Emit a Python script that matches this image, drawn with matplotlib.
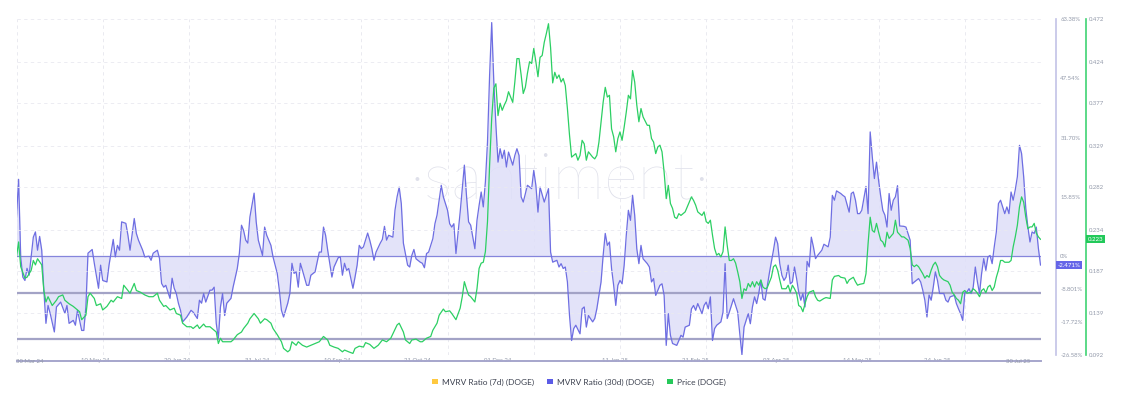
import numpy as np
import matplotlib
matplotlib.use("Agg")
import matplotlib.pyplot as plt
import matplotlib.dates as mdates
from matplotlib.patches import Patch

plt.rcParams['font.family'] = ['Lato', 'DejaVu Sans']

start_date = np.datetime64('2024-03-30')
end_date = np.datetime64('2025-07-30')

# MVRV Ratio (30d) (DOGE), %  -- day offsets from start_date
mvrv_days = [0,1,2,3,4,5,6,8,9,10,11,12,13,14,15,16,18,19,21,23,24,25,27,28,29,31,32,33,34,36,37,39,40,41,43,44,46,47,48,49,
             50,52,53,54,56,57,58,60,61,63,64,65,67,68,69,70,71,73,74,75,76,77,78,79,81,83,84,86,87,88,89,90,92,93,94,95,96,97,98,99,
             100,102,103,105,106,107,108,109,110,111,113,114,115,117,118,119,121,122,124,125,126,127,129,130,131,132,133,134,135,136,138,139,140,142,143,144,145,146,147,148,
             150,151,153,154,155,156,157,158,159,160,161,162,163,164,165,167,168,169,170,171,173,174,175,176,177,179,180,181,182,183,184,186,187,188,189,190,192,193,194,195,196,198,199,
             200,201,202,203,205,206,207,208,209,211,212,213,214,215,216,218,219,220,221,222,223,224,225,226,227,228,229,230,231,232,233,234,236,237,238,239,240,241,242,243,245,246,247,248,249,
             251,252,253,254,255,257,258,259,260,261,262,263,264,265,266,268,269,270,271,272,274,275,276,278,279,280,281,282,283,284,285,286,287,288,289,290,291,292,293,294,295,296,297,298,
             300,301,302,303,304,306,307,308,309,310,311,312,314,315,316,317,318,320,321,322,323,324,326,327,328,329,330,331,332,333,335,336,337,338,339,340,341,343,344,345,346,348,349,
             350,351,352,353,354,355,356,357,358,360,361,362,363,364,365,366,367,368,369,370,371,372,373,374,375,376,377,378,379,380,381,383,384,386,387,388,389,390,392,393,394,396,397,398,399,
             400,401,402,404,405,406,407,408,409,410,411,412,413,414,415,416,417,418,419,420,422,423,425,426,427,429,430,431,432,433,434,435,436,437,438,439,440,441,442,443,444,446,447,448,449,
             450,451,452,453,454,455,456,457,458,459,460,461,462,463,464,465,466,467,468,469,470,471,472,473,474,475,476,477,478,479,480,481,482,483,484,485,486,487]
mvrv_vals = [10.4,20.5,-0.3,-5.7,-6.6,-3.35,-5.2,5.0,6.4,1.5,5.2,1.5,-9.2,-18.1,-13.3,-15.4,-20.4,-13.7,-12.4,-15.4,-13.3,-18.1,-17.3,-18.6,-14.6,-20.0,-20.0,-13.7,0.7,1.7,-2.0,-8.7,-2.5,-6.6,-7.0,-2.5,4.4,-0.3,2.8,1.5,
             9.1,8.7,5.5,1.5,10.0,6.0,4.2,1.5,-0.3,-0.1,-1.2,0.7,1.5,-0.7,-7.4,-8.4,-7.9,-11.4,-6.0,-8.7,-10.1,-12.7,-14.6,-17.7,-16.4,-14.6,-15.1,-16.8,-11.9,-12.7,-10.1,-12.4,-9.2,-9.2,-8.4,-18.1,-22.1,-13.7,-10.1,-16.0,
             -12.7,-11.4,-8.4,-3.4,0.7,8.2,6.8,4.2,3.4,10.4,16.8,9.1,4.2,0.1,7.7,5.5,2.8,-0.3,-4.7,-9.2,-14.6,-16.4,-12.7,-10.1,-2.0,-4.7,-4.3,-8.4,-2.0,-3.9,-7.9,-7.9,-5.2,-4.3,-1.7,1.0,1.0,7.7,5.5,1.5,
             -5.7,-3.0,-0.5,-0.3,-5.2,-2.0,-3.9,-3.4,-6.0,-8.7,-5.7,-2.5,2.8,1.9,2.4,6.1,4.2,1.9,-1.2,1.0,3.4,4.4,7.9,4.2,5.5,5.0,12.2,15.8,18.4,14.0,3.4,-2.5,-3.0,0.1,1.7,-0.8,-1.7,-2.0,-3.2,0.6,1.0,4.6,8.6,
             10.9,14.9,18.9,15.8,12.2,8.6,7.7,8.6,0.6,11.7,18.0,24.3,16.2,9.1,8.2,1.9,9.5,13.5,17.1,13.1,19.8,30.5,48.4,62.5,46.6,35.0,25.1,28.7,26.1,28.3,23.8,27.8,24.3,26.9,28.7,26.9,15.8,14.4,16.7,18.9,18.0,22.9,18.9,11.7,18.4,
             14.4,16.2,18.0,1.0,-1.7,-1.2,-3.0,-2.1,-3.4,-3.0,-7.0,-16.0,-22.7,-19.5,-18.6,-20.9,-14.2,-13.7,-19.1,-16.0,-17.7,-16.8,-14.2,-7.0,0.1,6.0,2.8,3.7,-3.4,-7.9,-13.3,-7.9,-6.6,-7.5,-2.5,5.5,12.2,9.5,16.2,10.9,1.9,-2.1,2.8,-0.8,
             -2.1,-3.0,-7.0,-6.1,-10.6,-7.9,-7.5,-10.6,-24.0,-15.5,-21.3,-23.5,-24.0,-22.7,-21.3,-21.8,-19.1,-18.6,-14.2,-13.3,-14.6,-12.8,-15.5,-13.3,-12.4,-14.2,-11.0,-22.7,-19.5,-18.6,-17.7,-15.1,-2.1,-16.8,-15.1,-13.3,-11.5,-15.1,-21.0,-26.5,-19.1,-15.5,-18.2,
             -13.7,-11.0,-12.8,-10.1,-6.6,-11.5,-11.9,-8.4,-4.8,1.5,5.0,3.3,-2.1,-5.2,-6.6,-5.7,-2.5,-7.5,-7.0,-3.0,-6.1,-9.7,-11.9,-10.1,-13.7,-1.5,-3.0,5.0,2.4,-0.75,0.1,1.5,3.1,2.4,5.0,16.2,14.9,17.4,16.7,16.2,15.8,11.7,16.7,17.1,14.9,
             11.3,11.3,12.2,18.6,11.3,33.2,26.5,20.7,25.1,20.2,16.0,12.2,10.9,7.7,16.7,12.2,14.9,15.8,18.8,8.0,7.9,7.7,4.2,-7.5,-7.0,-6.1,-7.0,-9.2,-11.9,-16.4,-10.5,-11.9,-8.4,-4.3,-6.6,-10.1,-10.1,-10.1,-11.9,-12.4,-11.0,-10.6,-12.8,-14.2,-15.5,
             -17.3,-9.9,-9.7,-8.8,-10.1,-8.4,-3.0,-7.0,-10.1,-4.7,-0.75,-3.9,-0.3,0.1,-2.1,2.4,6.4,14.0,14.9,13.1,11.3,13.1,11.3,17.1,14.9,17.7,21.2,29.6,27.4,21.2,12.7,7.7,3.7,6.4,6.0,7.7,2.0,-2.471]

# Price (DOGE), USD
price_days = [0,1,2,4,5,7,8,9,10,12,13,14,15,17,19,20,22,23,25,27,28,30,31,33,34,35,37,38,40,41,43,45,46,48,
              50,51,53,54,56,57,59,61,63,65,67,68,70,71,73,75,76,78,79,81,83,84,86,87,89,90,92,93,95,96,97,98,
              100,102,103,105,107,108,110,111,113,115,116,118,119,121,122,124,126,127,129,130,131,133,134,136,138,140,142,144,146,148,149,
              151,153,155,156,158,160,161,163,165,166,168,170,172,174,176,178,179,181,182,184,185,187,188,190,192,193,195,197,198,
              200,201,203,204,206,207,209,211,212,213,214,215,216,218,219,220,221,222,223,224,225,226,227,228,229,230,231,232,233,234,236,237,238,239,240,241,242,243,244,245,246,247,248,249,
              250,251,252,253,254,255,256,257,258,259,260,261,262,263,264,266,267,268,269,270,271,272,274,275,276,277,278,279,280,281,282,283,284,285,286,287,288,289,290,291,292,293,294,295,296,297,298,
              300,301,302,303,304,305,306,307,308,309,310,311,312,313,314,315,316,317,318,319,320,321,322,323,324,326,327,328,329,330,331,332,333,334,335,336,337,338,339,340,341,342,343,344,345,346,347,348,349,
              350,351,352,353,354,355,356,357,359,360,361,362,363,364,366,367,368,369,370,371,372,373,374,375,376,377,379,380,381,382,384,385,387,388,389,391,392,394,395,396,398,399,
              400,401,403,404,405,406,407,408,409,410,411,412,413,414,415,417,418,419,421,422,424,425,426,427,428,429,431,432,433,434,435,436,437,438,439,440,441,443,444,445,446,447,448,449,
              450,451,452,454,455,456,457,458,459,460,461,462,463,464,465,466,467,468,469,470,472,473,474,475,476,477,478,479,480,481,482,483,484,485,486,487]
price_vals = [0.203,0.220,0.192,0.179,0.180,0.188,0.199,0.194,0.201,0.194,0.165,0.152,0.158,0.148,0.154,0.158,0.160,0.154,0.150,0.147,0.145,0.141,0.132,0.137,0.158,0.162,0.156,0.148,0.150,0.143,0.147,0.154,0.152,0.158,
              0.156,0.171,0.165,0.162,0.173,0.165,0.163,0.160,0.158,0.158,0.162,0.154,0.147,0.148,0.143,0.145,0.139,0.137,0.128,0.124,0.124,0.122,0.126,0.122,0.127,0.124,0.124,0.122,0.118,0.105,0.111,0.107,
              0.107,0.107,0.109,0.115,0.118,0.122,0.128,0.133,0.139,0.133,0.128,0.133,0.132,0.128,0.122,0.115,0.107,0.0995,0.0956,0.0976,0.107,0.103,0.107,0.103,0.101,0.103,0.105,0.107,0.113,0.109,0.103,
              0.101,0.0995,0.0956,0.0976,0.0956,0.0938,0.0995,0.102,0.101,0.106,0.104,0.0995,0.103,0.109,0.107,0.111,0.116,0.126,0.128,0.118,0.109,0.105,0.109,0.110,0.107,0.107,0.111,0.113,0.120,
              0.128,0.137,0.144,0.141,0.142,0.139,0.132,0.145,0.158,0.175,0.167,0.160,0.158,0.152,0.167,0.190,0.196,0.197,0.209,0.243,0.307,0.360,0.394,0.399,0.363,0.377,0.369,0.375,0.380,0.390,0.378,0.401,0.4275,0.4275,0.409,0.388,0.395,0.411,0.424,0.422,0.439,0.424,0.407,0.429,
              0.431,0.446,0.456,0.467,0.440,0.400,0.412,0.405,0.409,0.401,0.405,0.397,0.371,0.341,0.316,0.320,0.3125,0.318,0.335,0.331,0.3125,0.322,0.316,0.314,0.318,0.333,0.356,0.378,0.395,0.384,0.386,0.348,0.339,0.322,0.337,0.3445,0.335,0.350,0.367,0.386,0.382,0.414,0.401,0.375,0.356,0.371,0.3615,
              0.352,0.352,0.337,0.333,0.320,0.3275,0.3295,0.322,0.299,0.269,0.284,0.2635,0.258,0.248,0.2465,0.252,0.250,0.252,0.254,0.2597,0.2653,0.271,0.267,0.2616,0.254,0.250,0.254,0.243,0.241,0.2446,0.2277,0.2126,0.205,0.207,0.203,0.209,0.237,0.216,0.199,0.199,0.201,0.196,0.186,0.175,0.156,0.167,0.165,0.173,0.169,
              0.175,0.169,0.175,0.171,0.177,0.169,0.167,0.168,0.180,0.192,0.194,0.188,0.177,0.167,0.167,0.171,0.163,0.171,0.167,0.162,0.148,0.1465,0.141,0.150,0.158,0.163,0.165,0.158,0.154,0.153,0.156,0.157,0.156,0.177,0.181,0.182,0.180,0.179,0.173,0.177,0.180,0.175,
              0.171,0.172,0.173,0.184,0.218,0.248,0.233,0.231,0.241,0.231,0.222,0.220,0.2144,0.231,0.224,0.2296,0.2446,0.231,0.2257,0.2257,0.222,0.2126,0.194,0.192,0.194,0.192,0.184,0.179,0.182,0.180,0.188,0.194,0.197,0.192,0.182,0.179,0.177,0.175,0.171,0.163,0.160,0.156,0.154,0.150,
              0.163,0.165,0.162,0.163,0.167,0.165,0.162,0.158,0.165,0.167,0.1624,0.169,0.171,0.165,0.169,0.180,0.188,0.199,0.199,0.197,0.197,0.199,0.2144,0.2257,0.239,0.2597,0.271,0.265,0.248,0.235,0.237,0.237,0.241,0.230,0.2257,0.223]

mvrv_ticks = [-26.58, -17.72, -8.801, 0, 15.85, 31.70, 47.54, 63.38]
mvrv_tick_labels = ['-26.58%', '-17.72%', '-8.801%', '0%', '15.85%', '31.70%', '47.54%', '63.38%']
price_ticks = [0.092, 0.139, 0.187, 0.234, 0.282, 0.329, 0.377, 0.424, 0.472]
grid_dates = ['2024-03-30', '2024-05-10', '2024-06-20', '2024-07-31', '2024-09-10', '2024-10-21',
              '2024-12-01', '2025-01-11', '2025-02-21', '2025-04-03', '2025-05-14', '2025-06-24']
date_labels = ['10 May 24', '20 Jun 24', '31 Jul 24', '10 Sep 24', '21 Oct 24', '01 Dec 24',
               '11 Jan 25', '21 Feb 25', '03 Apr 25', '14 May 25', '24 Jun 25']
date_label_days = [37.3, 76.3, 114.4, 152.4, 190.5, 229.0, 284.6, 322.7, 361.2, 399.8, 437.8]
ref_levels = [-9.97, -22.35]

mvrv_color = '#6e6ee2'
fill_color = '#dfdff9'
price_color = '#2ccf63'
tick_color = '#939aaa'

mvrv_dates = start_date + np.array(mvrv_days).astype('timedelta64[D]')
price_dates = start_date + np.array(price_days).astype('timedelta64[D]')
mv = np.array(mvrv_vals)

fig = plt.figure(figsize=(11.28, 3.97), dpi=100)
W, H = 1128, 397
x0, x1, ytop, ybot = 16.5, 1040.5, 19.3, 355.0
ax = fig.add_axes([x0 / W, 1 - ybot / H, (x1 - x0) / W, (ybot - ytop) / H])
ax2 = ax.twinx()

ax.set_xlim(mdates.date2num(start_date), mdates.date2num(end_date))
ax.set_ylim(mvrv_ticks[0], mvrv_ticks[-1])
ax2.set_ylim(price_ticks[0], price_ticks[-1])

# grids
for gd in grid_dates:
    ax.axvline(mdates.date2num(np.datetime64(gd)), color='#e6e7ee', lw=0.6, ls=(0, (4, 4)), zorder=0)
for pt in price_ticks[1:]:
    ax2.axhline(pt, color='#e9e9f0', lw=0.6, ls=(0, (4, 4)), zorder=0)

# watermark
fig.text(0.496, 0.545, '\u00b7santiment\u00b7', fontsize=47, fontweight='light', color='#dfe0ea',
         ha='center', va='center', zorder=0)

ax.set_zorder(1)
ax2.set_zorder(2)
ax.patch.set_visible(False)
ax2.patch.set_visible(False)

ax.fill_between(mvrv_dates, mv, 0, color=fill_color, alpha=0.85, lw=0, zorder=1)
ax.axhline(0, color='#8585dc', lw=0.9, zorder=2)
for lv in ref_levels:
    ax.axhline(lv, color='#a3a3c6', lw=1.6, zorder=2)
ax.plot(mvrv_dates, mv, color=mvrv_color, lw=0.9, zorder=3)
ax2.plot(price_dates, price_vals, color=price_color, lw=0.9, zorder=3)

# spines / axes
for s in ['top', 'left']:
    ax.spines[s].set_visible(False)
    ax2.spines[s].set_visible(False)
ax2.spines['bottom'].set_visible(False)
ax.spines['right'].set_position(('axes', (1055.5 - x0) / (x1 - x0)))
ax.spines['right'].set_color('#c2c2e6')
ax.spines['right'].set_linewidth(1.2)
ax2.spines['right'].set_position(('axes', (1085.5 - x0) / (x1 - x0)))
ax2.spines['right'].set_color('#3fd373')
ax2.spines['right'].set_linewidth(1.2)
ax.spines['bottom'].set_position(('axes', -(360.5 - ybot) / (ybot - ytop)))
ax.spines['bottom'].set_color('#a6a6cc')
ax.spines['bottom'].set_linewidth(1.4)

ax.yaxis.tick_right()
ax.set_yticks(mvrv_ticks)
ax.set_yticklabels(mvrv_tick_labels)
ax.tick_params(axis='y', length=0, pad=3.5, labelsize=4.3, labelcolor=tick_color)
ax2.set_yticks(price_ticks)
ax2.set_yticklabels([f'{p:.3f}' for p in price_ticks])
ax2.tick_params(axis='y', length=0, pad=2.5, labelsize=4.3, labelcolor=tick_color)

tick_pos = [mdates.date2num(start_date + np.timedelta64(int(round(d * 24)), 'h')) for d in date_label_days]
ax.set_xticks(tick_pos)
ax.set_xticklabels(date_labels)
ax.tick_params(axis='x', length=0, pad=-1.5, labelsize=4.3, labelcolor=tick_color)
ax.text(0.0, -(361.5 - ybot) / (ybot - ytop), start_date.astype(object).strftime('%d %b %y'),
        transform=ax.transAxes, ha='left', va='center', fontsize=4.3, color=tick_color)
ax.text((1018.5 - x0) / (x1 - x0), -(361.5 - ybot) / (ybot - ytop), end_date.astype(object).strftime('%d %b %y'),
        transform=ax.transAxes, ha='center', va='center', fontsize=4.3, color=tick_color)

# last value boxes
ax.annotate(f'{mvrv_vals[-1]:.3f}%', xy=((1057.5 - x0) / (x1 - x0), mvrv_vals[-1]),
            xycoords=('axes fraction', 'data'), ha='left', va='center', fontsize=4.4, color='white',
            bbox=dict(boxstyle='square,pad=0.25', fc='#6565e8', ec='none'), annotation_clip=False)
ax2.annotate(f'{price_vals[-1]:.3f}', xy=((1087.5 - x0) / (x1 - x0), price_vals[-1]),
             xycoords=('axes fraction', 'data'), ha='left', va='center', fontsize=4.4, color='white',
             bbox=dict(boxstyle='square,pad=0.25', fc='#22c95a', ec='none'), annotation_clip=False)

# legend
handles = [Patch(facecolor='#ffc940', edgecolor='none', label='MVRV Ratio (7d) (DOGE)'),
           Patch(facecolor='#5b5be6', edgecolor='none', label='MVRV Ratio (30d) (DOGE)'),
           Patch(facecolor='#26c95a', edgecolor='none', label='Price (DOGE)')]
fig.legend(handles=handles, loc='center', bbox_to_anchor=(579 / W, 1 - 382 / H), ncol=3, frameon=False,
           fontsize=6, handlelength=0.7, handleheight=0.7, handletextpad=0.5, columnspacing=1.6,
           labelcolor='#3d4250')

fig.savefig('out.png', dpi=100)
